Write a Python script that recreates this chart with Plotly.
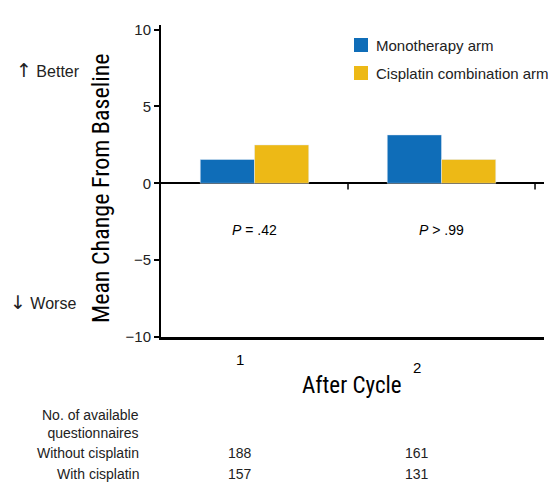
import plotly.graph_objects as go

# data
cycles = [1, 2]
cycle_labels = ["1", "2"]
mono = [1.55, 3.15]
combo = [2.5, 1.55]
series_names = ["Monotherapy arm", "Cisplatin combination arm"]
p_values = ["<i>P</i> = .42", "<i>P</i> > .99"]
row_names = ["No. of available<br>questionnaires", "Without cisplatin", "With cisplatin"]
n_without = [188, 161]
n_with = [157, 131]

BLUE = "#0f6db8"
YELLOW = "#edb916"
FONT = "Liberation Sans, Arial, sans-serif"
NARROW = "Liberation Sans Narrow, Arial Narrow, Roboto Condensed, Liberation Sans, sans-serif"

# plot area in page pixels: 161..544 by 25..337 (page body has an 8px margin)
PL, PR, PT, PB = 161, 544, 25, 337


def px(x, y):
    return (x - PL) / (PR - PL), (PB - y) / (PB - PT)


fig = go.Figure()
fig.add_trace(go.Bar(x=cycles, y=mono, name=series_names[0], marker_color=BLUE))
fig.add_trace(go.Bar(x=cycles, y=combo, name=series_names[1], marker_color=YELLOW))

fig.update_layout(
    width=556, height=490,
    margin=dict(l=PL - 8, r=556 - (PR - PL) - (PL - 8), t=PT - 8, b=490 - (PB - PT) - (PT - 8)),
    paper_bgcolor="white", plot_bgcolor="white",
    barmode="group", bargap=0.42, bargroupgap=0,
    font=dict(family=FONT, size=14, color="#1a1a1a"),
    showlegend=False,
)
fig.update_xaxes(range=[0.5, 2.548], showline=True, linecolor="black", linewidth=2.5,
                 showticklabels=False, ticks="", showgrid=False, zeroline=False)
fig.update_yaxes(range=[-10, 10.3], tickvals=[-10, -5, 0, 5, 10],
                 ticktext=["\u221210", "\u22125", "0", "5", "10"],
                 showline=True, linecolor="black", linewidth=2,
                 ticks="outside", ticklen=5, tickwidth=1.5, tickcolor="black",
                 showgrid=False, zeroline=True, zerolinecolor="black", zerolinewidth=2,
                 tickfont=dict(size=15, color="#222"))

# category boundary ticks on the zero line
for b in [1.5, 2.5]:
    fig.add_shape(type="line", xref="x", yref="y", x0=b, x1=b, y0=0, y1=-0.4,
                  line=dict(color="black", width=1.5))

# p-values under each cycle
for c, p in zip(cycles, p_values):
    fig.add_annotation(x=c, y=-3.05, xref="x", yref="y", text=p, showarrow=False,
                       font=dict(size=14, color="black"))


def note(text, x, y, xanchor="center", **kw):
    ax, ay = px(x, y)
    fig.add_annotation(x=ax, y=ay, xref="paper", yref="paper", text=text,
                       showarrow=False, xanchor=xanchor, yanchor="middle", **kw)


# legend drawn by hand so it does not push the right margin
for name, col, ly in zip(series_names, [BLUE, YELLOW], [45, 73]):
    x0, y0 = px(354, ly - 7)
    x1, y1 = px(368, ly + 7)
    fig.add_shape(type="rect", xref="paper", yref="paper", x0=x0, x1=x1, y0=y0, y1=y1,
                  fillcolor=col, line=dict(width=0))
    note(name, 374, ly, xanchor="left", font=dict(size=15, color="#222"))

# axis titles
note("Mean Change From Baseline", 101, 188, textangle=-90,
     font=dict(family=NARROW, size=24, color="black"))
note("After Cycle", 352, 386, font=dict(family=NARROW, size=23, color="black"))

# cycle labels
label_x = [240, 417]
label_y = [359, 367]
for t, lx, ly in zip(cycle_labels, label_x, label_y):
    note(t, lx, ly, font=dict(size=15, color="black"))

# better / worse hints
ARROW = "<span style='font-family:DejaVu Sans;font-size:19px'>%s</span> "
note(ARROW % "\u2191" + "Better", 14, 70, xanchor="left", font=dict(size=16, color="#222"))
note(ARROW % "\u2193" + "Worse", 8, 302, xanchor="left", font=dict(size=16, color="#222"))

# questionnaire table
row_y = [424, 453, 474]
for name, ry in zip(row_names, row_y):
    note(name, 141, ry, xanchor="right", align="right", font=dict(size=14, color="#222"))
for lx, a, b in zip(label_x, n_without, n_with):
    note(str(a), lx, row_y[1], font=dict(size=14, color="#222"))
    note(str(b), lx, row_y[2], font=dict(size=14, color="#222"))

fig.write_html("out.html")
